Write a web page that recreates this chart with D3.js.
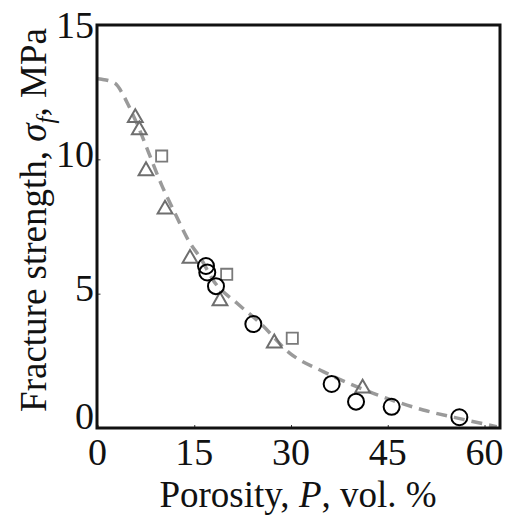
<!DOCTYPE html>
<html>
<head>
<meta charset="utf-8">
<script src="https://cdn.jsdelivr.net/npm/d3@7"></script>
<style>
  html, body { margin: 0; padding: 0; background: #fff; }
</style>
</head>
<body>
<svg id="chart" width="507" height="517"></svg>
<script>
// ---- data ----
const xTicks = [0, 15, 30, 45, 60];
const yTicks = [0, 5, 10, 15];

// open circles (black)
const circleP     = [16.82, 17.02, 18.37, 24.16, 36.3, 40.08, 45.6, 56.1];
const circleSigma = [6.03, 5.79, 5.28, 3.87, 1.64, 0.98, 0.79, 0.40];

// open triangles (gray)
const triP     = [5.86, 6.48, 7.52, 10.47, 14.34, 18.99, 27.41, 41.1];
const triSigma = [11.55, 11.09, 9.57, 8.14, 6.31, 4.73, 3.16, 1.48];

// open squares (gray)
const sqP     = [9.95, 20.03, 30.2];
const sqSigma = [10.12, 5.72, 3.34];

// dashed fit curve
const fitP     = [0, 0.65, 2.71, 4.0, 4.78, 6.33, 7.88, 9.95, 12.02, 14.08, 16.16, 17.9, 21.6, 25.2, 29.84, 35.0, 42.76, 50.5, 56.7, 61.9];
const fitSigma = [13.0, 12.98, 12.83, 12.39, 12.02, 11.21, 10.28, 9.04, 7.99, 6.99, 6.25, 5.51, 4.65, 3.91, 2.78, 2.10, 1.29, 0.67, 0.32, 0.05];

(function () {
const FONT = "'Liberation Serif', 'Times New Roman', Times, 'DejaVu Serif', serif";
// ---- layout ----
const mLeft = 97.5, mTop = 25, mRight = 500, mBottom = 428;
const svg = d3.select("#chart");

const x = d3.scaleLinear().domain([0, 62.4]).range([mLeft, mRight]);
const y = d3.scaleLinear().domain([0, 15]).range([mBottom, mTop]);

const zip = (a, b) => a.map((v, i) => [v, b[i]]);

// fit curve
const line = d3.line().x(d => x(d[0])).y(d => y(d[1])).curve(d3.curveMonotoneX);
svg.append("path")
  .datum(zip(fitP, fitSigma))
  .attr("d", line)
  .attr("fill", "none")
  .attr("stroke", "#9a9a9a")
  .attr("stroke-width", 3.5)
  .attr("stroke-dasharray", "11,7");

// squares
svg.append("g").selectAll("path")
  .data(zip(sqP, sqSigma))
  .join("path")
  .attr("transform", d => `translate(${x(d[0])},${y(d[1])})`)
  .attr("d", d3.symbol(d3.symbolSquare, 125)())
  .attr("fill", "none")
  .attr("stroke", "#7a7a7a")
  .attr("stroke-width", 1.8);

// triangles
svg.append("g").selectAll("path")
  .data(zip(triP, triSigma))
  .join("path")
  .attr("transform", d => `translate(${x(d[0])},${y(d[1])})`)
  .attr("d", d3.symbol(d3.symbolTriangle, 95)())
  .attr("fill", "none")
  .attr("stroke", "#6e6e6e")
  .attr("stroke-width", 2);

// circles
svg.append("g").selectAll("circle")
  .data(zip(circleP, circleSigma))
  .join("circle")
  .attr("cx", d => x(d[0]))
  .attr("cy", d => y(d[1]))
  .attr("r", 8)
  .attr("fill", "none")
  .attr("stroke", "#000")
  .attr("stroke-width", 2);

// small inward ticks
const xAxis = svg.append("g")
  .attr("transform", `translate(0,${mBottom})`)
  .call(d3.axisBottom(x).tickValues(xTicks).tickSizeInner(-3).tickSizeOuter(0).tickFormat(""));
xAxis.select(".domain").remove();
xAxis.selectAll("line").attr("stroke", "#333").attr("stroke-width", 1);

const yAxis = svg.append("g")
  .attr("transform", `translate(${mLeft},0)`)
  .call(d3.axisLeft(y).tickValues(yTicks).tickSizeInner(-3).tickSizeOuter(0).tickFormat(""));
yAxis.select(".domain").remove();
yAxis.selectAll("line").attr("stroke", "#333").attr("stroke-width", 1);

// frame
svg.append("rect")
  .attr("x", x(0) - 0.5).attr("y", y(15))
  .attr("width", mRight - x(0) + 0.5).attr("height", mBottom - y(15))
  .attr("fill", "none").attr("stroke", "#111").attr("stroke-width", 3);

// tick labels
svg.append("g").selectAll("text")
  .data(xTicks)
  .join("text")
  .attr("x", d => x(d))
  .attr("y", 465)
  .attr("text-anchor", "middle")
  .attr("font-family", FONT)
  .attr("font-size", 38)
  .attr("fill", "#111")
  .text(d => d);

const yLabelShift = v => (v === 0 ? -12 : v === 15 ? 0 : -6);
svg.append("g").selectAll("text")
  .data(yTicks)
  .join("text")
  .attr("x", 94)
  .attr("y", d => y(d) + yLabelShift(d))
  .attr("dy", "0.35em")
  .attr("text-anchor", "end")
  .attr("font-family", FONT)
  .attr("font-size", 38)
  .attr("fill", "#111")
  .text(d => d);

// axis titles
const xt = svg.append("text")
  .attr("x", 298).attr("y", 507)
  .attr("text-anchor", "middle")
  .attr("font-family", FONT)
  .attr("font-size", 37)
  .attr("fill", "#111");
xt.append("tspan").text("Porosity, ");
xt.append("tspan").attr("font-style", "italic").text("P");
xt.append("tspan").text(", vol. %");

const yt = svg.append("text")
  .attr("transform", "translate(46,220) rotate(-90)")
  .attr("text-anchor", "middle")
  .attr("font-family", FONT)
  .attr("font-size", 37)
  .attr("fill", "#111");
yt.append("tspan").text("Fracture strength, ");
yt.append("tspan").attr("font-style", "italic").text("σ");
yt.append("tspan").attr("font-style", "italic").attr("dy", 8).attr("font-size", 25).text("f");
yt.append("tspan").attr("dy", -8).text(", MPa");
})();
</script>
</body>
</html>
